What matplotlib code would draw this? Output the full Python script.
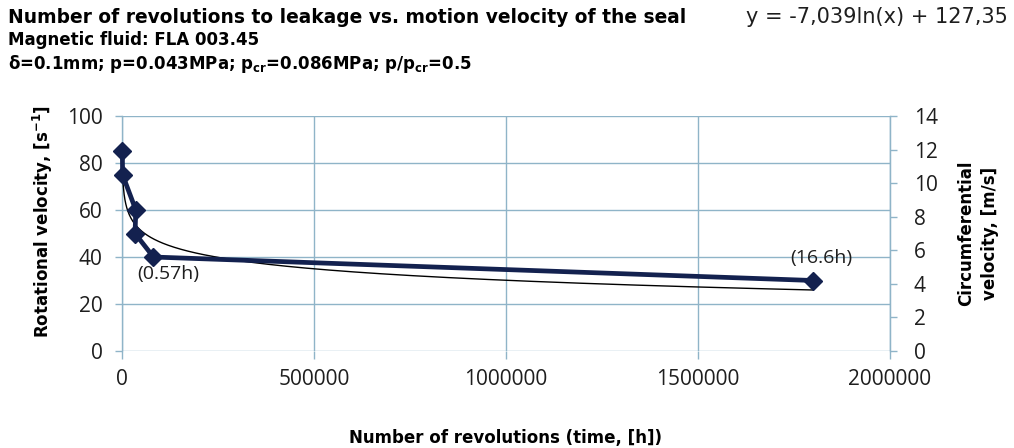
import numpy as np
import matplotlib.pyplot as plt

# data
revolutions = [1000, 1500, 36000, 34000, 82000, 1800000]
rot_velocity = [85, 75, 60, 50, 40, 30]
point_labels = {4: "(0.57h)", 5: "(16.6h)"}

# log trend line given on the chart
trend_a = -7.039
trend_b = 127.35
trend_text = "y = -7,039ln(x) + 127,35"

x_ticks = [0, 500000, 1000000, 1500000, 2000000]
left_ticks = [0, 20, 40, 60, 80, 100]
right_ticks = [0, 2, 4, 6, 8, 10, 12, 14]

grid_col = "#8fb4c8"
line_col = "#13214f"
text_col = "#1e1e1e"
tick_font = "Open Sans"
bold_font = "DejaVu Sans"

fig = plt.figure(figsize=(10.14, 4.48), dpi=100)
fig.patch.set_facecolor("white")
ax = fig.add_axes([0.1203, 0.2165, 0.7574, 0.5245])

ax.set_xlim(0, 2000000)
ax.set_ylim(0, 100)
ax.set_xticks(x_ticks)
ax.set_xticklabels([str(v) for v in x_ticks])
ax.set_yticks(left_ticks)
ax.grid(True, color=grid_col, lw=1.0)
ax.set_axisbelow(True)
for s in ["top", "bottom"]:
    ax.spines[s].set_visible(False)
for s in ["left", "right"]:
    ax.spines[s].set_color(grid_col)
    ax.spines[s].set_linewidth(1.0)
ax.tick_params(axis="both", colors=grid_col, length=5, width=1.0)
ax.tick_params(axis="x", length=6, pad=7)
ax.tick_params(axis="y", pad=9)
for lab in ax.get_xticklabels() + ax.get_yticklabels():
    lab.set_color(text_col)
    lab.set_fontfamily(tick_font)
    lab.set_fontsize(15)

xt = np.linspace(min(revolutions), max(revolutions), 800)
ax.plot(xt, trend_a * np.log(xt) + trend_b, color="black", lw=1.0, zorder=3)
ax.plot(revolutions, rot_velocity, color=line_col, lw=3.4, marker="D",
        markersize=9.5, markerfacecolor=line_col, markeredgecolor=line_col,
        zorder=4, clip_on=False)

ax.annotate(point_labels[4], (revolutions[4], rot_velocity[4]),
            xytext=(-12, -12), textcoords="offset points", fontsize=14,
            fontfamily=tick_font, color=text_col, va="center")
ax.annotate(point_labels[5], (revolutions[5], rot_velocity[5]),
            xytext=(-16.5, 16.5), textcoords="offset points", fontsize=14,
            fontfamily=tick_font, color=text_col, va="center")

ax2 = ax.twinx()
ax2.set_ylim(0, 14)
ax2.set_yticks(right_ticks)
for s in ["top", "bottom", "left"]:
    ax2.spines[s].set_visible(False)
ax2.spines["right"].set_color(grid_col)
ax2.tick_params(axis="y", colors=grid_col, length=5, width=1.0, pad=12)
for lab in ax2.get_yticklabels():
    lab.set_color(text_col)
    lab.set_fontfamily(tick_font)
    lab.set_fontsize(15)

ax.set_ylabel("Rotational velocity, [s$^{\\mathbf{-1}}$]", fontfamily=bold_font,
              fontweight="bold", fontsize=12, labelpad=4)
ax.yaxis.set_label_coords(-0.087, 0.55)
ax2.set_ylabel("Circumferential\nvelocity, [m/s]", fontfamily=bold_font,
               fontweight="bold", fontsize=12, rotation=90, labelpad=14,
               linespacing=1.45)
ax.set_xlabel("Number of revolutions (time, [h])", fontfamily=bold_font,
              fontweight="bold", fontsize=12, labelpad=28)

fig.text(0.008, 0.962, "Number of revolutions to leakage vs. motion velocity of the seal",
         fontfamily=bold_font, fontweight="bold", fontsize=13.4, va="center")
fig.text(0.008, 0.91, "Magnetic fluid: FLA 003.45",
         fontfamily=bold_font, fontweight="bold", fontsize=12, va="center")
fig.text(0.008, 0.857,
         "δ=0.1mm; p=0.043MPa; p$_{\\mathbf{cr}}$=0.086MPa; p/p$_{\\mathbf{cr}}$=0.5",
         fontfamily=bold_font, fontweight="bold", fontsize=12, va="center")
fig.text(0.994, 0.962, trend_text, fontfamily="DejaVu Sans", fontsize=15,
         ha="right", va="center", color=text_col)

fig.savefig("out.png", dpi=100, facecolor="white")
